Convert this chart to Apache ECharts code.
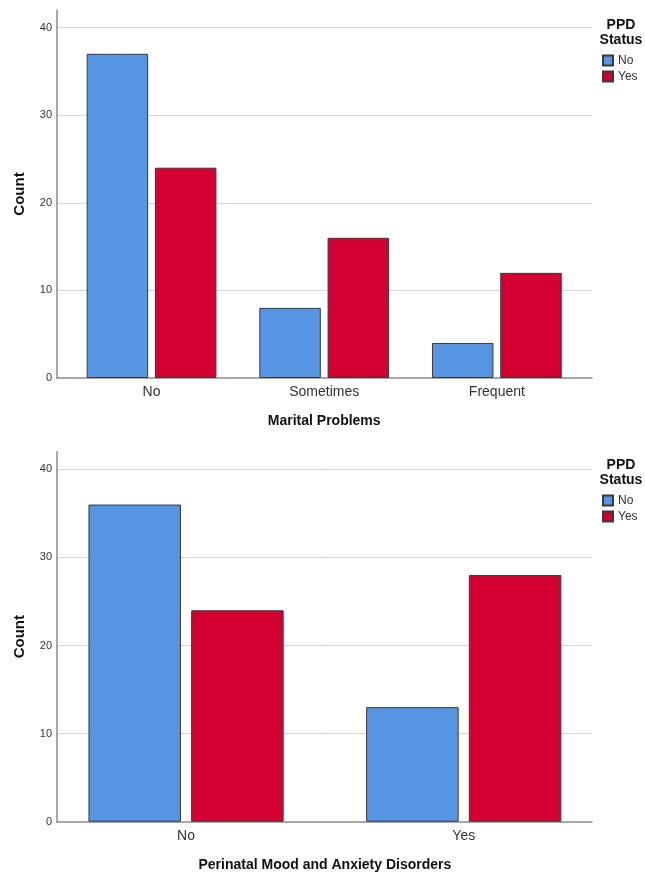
<!DOCTYPE html>
<html>
<head>
<meta charset="utf-8">
<script src="https://cdn.jsdelivr.net/npm/echarts@6/dist/echarts.min.js"></script>
<style>html,body{margin:0;padding:0;background:#fff;}#c{width:645px;height:873px;}</style>
</head>
<body>
<div id="c"></div>
<script>
// ---- data ----
const seriesNames = ['No', 'Yes'];
const maritalCategories = ['No', 'Sometimes', 'Frequent'];
const maritalNo = [37, 8, 4];
const maritalYes = [24, 16, 12];
const pmadCategories = ['No', 'Yes'];
const pmadNo = [36, 13];
const pmadYes = [24, 28];
const yMax = 42;
const yInterval = 10;
const chart1XName = 'Marital Problems';
const chart2XName = 'Perinatal Mood and Anxiety Disorders';
const yName = 'Count';
const legendTitle = 'PPD\nStatus';

// ---- style ----
const FONT = 'Liberation Sans, Arial, sans-serif';
const BLUE = '#5694e4';
const RED = '#d50032';
const AXIS = '#8c8c8c';
const GRIDC = '#d4d4d4';

const chart = echarts.init(document.getElementById('c'));

function frameAxes(gridIndex) {
  return {
    x: {
      type: 'value', gridIndex, min: 0, max: 1,
      axisLine: {show: true, lineStyle: {color: AXIS, width: 1.5}},
      axisTick: {show: false}, axisLabel: {show: false}, splitLine: {show: false}
    },
    y: {
      type: 'value', gridIndex, min: 0, max: yMax, interval: yInterval,
      name: yName, nameLocation: 'middle', nameGap: 30,
      nameTextStyle: {fontFamily: FONT, fontSize: 15, fontWeight: 'bold', color: '#111'},
      axisLine: {show: true, lineStyle: {color: AXIS, width: 1.5}},
      axisTick: {show: false},
      axisLabel: {fontFamily: FONT, fontSize: 11, color: '#333', margin: 5, showMaxLabel: false},
      splitLine: {show: true, showMaxLine: false, showMinLine: false, lineStyle: {color: GRIDC, width: 1}}
    }
  };
}
function barAxes(gridIndex, cats, xName) {
  return {
    x: {
      type: 'category', gridIndex, data: cats,
      name: xName, nameLocation: 'middle', nameGap: 36,
      nameTextStyle: {fontFamily: FONT, fontSize: 14, fontWeight: 'bold', color: '#111'},
      axisLine: {show: false}, axisTick: {show: false},
      axisLabel: {fontFamily: FONT, fontSize: 14, color: '#333', margin: 7}
    },
    y: {type: 'value', gridIndex, min: 0, max: yMax, show: false}
  };
}
const f1 = frameAxes(0), b1 = barAxes(1, maritalCategories, chart1XName);
const f2 = frameAxes(2), b2 = barAxes(3, pmadCategories, chart2XName);

function barSeries(name, data, color, xi, yi, w) {
  return {
    type: 'bar', name, data, xAxisIndex: xi, yAxisIndex: yi,
    barWidth: w, barGap: '11%',
    itemStyle: {color, borderColor: '#3a3a3a', borderWidth: 1},
    emphasis: {disabled: true}, animation: false
  };
}
function legend(top) {
  return {
    data: seriesNames, orient: 'vertical', left: 602, top, padding: 0,
    itemWidth: 10, itemHeight: 10, itemGap: 4, itemTextGap: 4,
    icon: 'rect', selectedMode: false,
    textStyle: {fontFamily: FONT, fontSize: 12, color: '#333', lineHeight: 12}
  };
}

chart.setOption({
  animation: false,
  grid: [
    {left: 57, right: 53, top: 10, height: 368},
    {left: 65.2, width: 518, top: 10, height: 368},
    {left: 57, right: 53, top: 451.7, height: 370},
    {left: 47.2, width: 555.4, top: 451.7, height: 370}
  ],
  xAxis: [f1.x, b1.x, f2.x, b2.x],
  yAxis: [f1.y, b1.y, f2.y, b2.y],
  legend: [legend(54.5), legend(494.5)],
  series: [
    barSeries(seriesNames[0], maritalNo, BLUE, 1, 1, 61.5),
    barSeries(seriesNames[1], maritalYes, RED, 1, 1, 61.5),
    barSeries(seriesNames[0], pmadNo, BLUE, 3, 3, 92.5),
    barSeries(seriesNames[1], pmadYes, RED, 3, 3, 92.5)
  ],
  graphic: [
    {type: 'text', x: 621, y: 18, style: {text: legendTitle, textAlign: 'center', font: 'bold 14px ' + FONT, lineHeight: 15, fill: '#111'}},
    {type: 'text', x: 621, y: 458, style: {text: legendTitle, textAlign: 'center', font: 'bold 14px ' + FONT, lineHeight: 15, fill: '#111'}}
  ]
});
</script>
</body>
</html>
